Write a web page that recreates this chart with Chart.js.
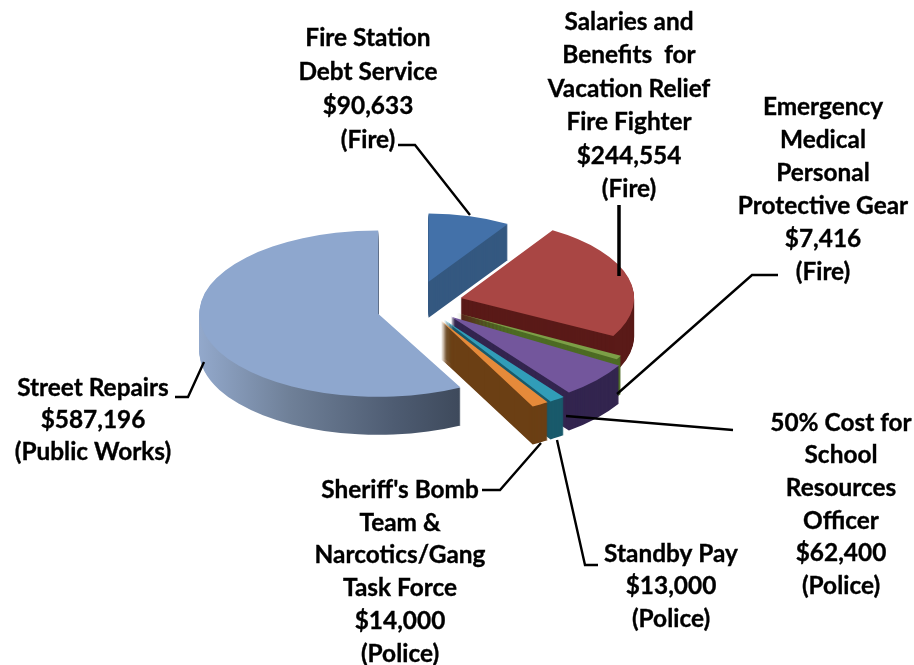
<!DOCTYPE html>
<html><head><meta charset="utf-8">
<style>html,body{margin:0;padding:0;background:#fff}canvas{display:block}</style>
<script src="https://cdn.jsdelivr.net/npm/chart.js@4"></script>
</head><body><canvas id="c" width="914" height="665"></canvas>
<script>
const categories = ["Fire Station Debt Service","Salaries and Benefits for Vacation Relief Fire Fighter","Emergency Medical Personal Protective Gear","50% Cost for School Resources Officer","Standby Pay","Sheriff's Bomb Team & Narcotics/Gang Task Force","Street Repairs"];
const amounts = [90633,244554,7416,62400,13000,14000,587196];
const topColors = ["#4371A9","#A94644","#7C9F47","#73569C","#319DB8","#E58A3A","#8EA7CE"];
const sideColors = ["#345880","#5A1A18","#4D6B24","#33254F","#195A6B","#6B3F14","#5A6B88"];
const labelLines = [
 ["Fire Station","Debt Service","$90,633","(Fire)"],
 ["Salaries and","Benefits  for","Vacation Relief","Fire Fighter","$244,554","(Fire)"],
 ["Emergency","Medical","Personal","Protective Gear","$7,416","(Fire)"],
 ["50% Cost for","School","Resources","Officer","$62,400","(Police)"],
 ["Standby Pay","$13,000","(Police)"],
 ["Sheriff's Bomb","Team &","Narcotics/Gang","Task Force","$14,000","(Police)"],
 ["Street Repairs","$587,196","(Public Works)"]
];
// layout (perspective approximated per slice)
const explode = [42,42,42,42,42,42,42];
const radiusScale = [0.84,0.975,1.05,1.1,1.12,1.12,1.005];
const yScale = [0.455,0.46,0.48,0.485,0.485,0.485,0.465];
const nudgeX = [-3,0,0,0,0,0,-1];
const nudgeY = [0,3,3,3,3,3,9];
const depth = [36,38,38,38,38,38,38];
const labelPos = [[368,38,34.0],[629,22,33.5],[823,107,33],[841,423,32.6],[671,554,32.5],[400,490,32.8],[93,388,32]];
const leaders = [
 {w:2.4,p:[[398,145],[415,145],[470,215]]},
 {w:3.5,p:[[619,205],[619,276]]},
 {w:2.4,p:[[778,275],[752,275],[617,394]]},
 {w:2.4,p:[[733,430],[566,416]]},
 {w:2.4,p:[[598,565],[585,565],[557,440]]},
 {w:2.4,p:[[482,490],[500,490],[541,443]]},
 {w:2.4,p:[[175,397],[188,397],[204,362]]}
];
const pie3d = {
 id:'pie3d',
 beforeDatasetsDraw(chart){
  const ctx = chart.ctx, arcs = chart.getDatasetMeta(0).data;
  const cx = arcs[0].x, cy = arcs[0].y;
  arcs.forEach((arc,i)=>{
   const mid = (arc.startAngle+arc.endAngle)/2;
   const ex = explode[i]*Math.cos(mid)+nudgeX[i], ey = explode[i]*Math.sin(mid)*yScale[i]+nudgeY[i];
   const r0 = arc.outerRadius, o0 = arc.options;
   arc.outerRadius = r0*radiusScale[i];
   let side = sideColors[i];
   if(i===6){
    side = ctx.createLinearGradient(198-ex,0,459-ex,0);
    side.addColorStop(0,"#93A9CC"); side.addColorStop(.35,"#6F8098");
    side.addColorStop(.75,"#4E5C72"); side.addColorStop(1,"#3E4A5C");
   }
   for(let d=depth[i];d>=0;d--){
    arc.options = Object.assign({},o0,{backgroundColor:d===0?topColors[i]:side,borderWidth:0});
    ctx.save();
    ctx.translate(cx+ex,cy+ey+d);
    ctx.scale(1,yScale[i]);
    ctx.translate(-cx,-cy);
    arc.draw(ctx);
    ctx.restore();
   }
   arc.outerRadius = r0; arc.options = o0;
  });
  return false;
 },
 afterDraw(chart){
  const ctx = chart.ctx;
  ctx.save();
  ctx.strokeStyle="#000"; ctx.lineJoin="miter";
  leaders.forEach(l=>{
   ctx.lineWidth=l.w; ctx.beginPath();
   l.p.forEach((q,j)=>j?ctx.lineTo(q[0],q[1]):ctx.moveTo(q[0],q[1]));
   ctx.stroke();
  });
  ctx.fillStyle="#000"; ctx.font='bold 24.4px Lato, "Open Sans", sans-serif';
  ctx.textAlign="center"; ctx.textBaseline="middle"; ctx.lineWidth=0.35;
  labelLines.forEach((lines,i)=>{
   const [x,y,h]=labelPos[i];
   lines.forEach((t,j)=>{ctx.fillText(t,x,y+j*h);ctx.strokeText(t,x,y+j*h);});
  });
  ctx.restore();
 }
};
new Chart(document.getElementById('c'),{
 type:'pie',
 data:{labels:categories,datasets:[{data:amounts,backgroundColor:topColors,borderWidth:0,radius:178}]},
 options:{responsive:false,animation:false,rotation:0,
  layout:{padding:{left:0,top:0,right:74,bottom:65}},
  plugins:{legend:{display:false},tooltip:{enabled:false}}},
 plugins:[pie3d]
});
</script></body></html>
